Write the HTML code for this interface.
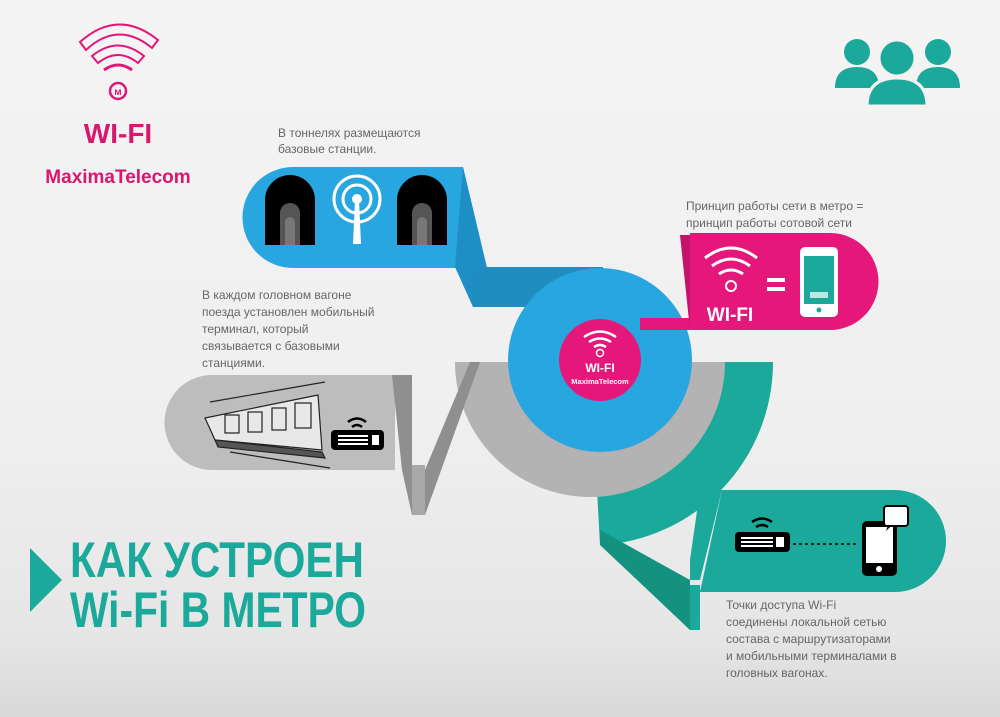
<!DOCTYPE html>
<html><head><meta charset="utf-8"><style>
html,body{margin:0;padding:0}
body{width:1000px;height:717px;overflow:hidden;background:linear-gradient(#f4f4f4 0%,#efefef 60%,#e6e6e6 88%,#d9d9d9 100%);font-family:"Liberation Sans","Noto Sans CJK SC",sans-serif}
svg{position:absolute;left:0;top:0}
</style></head><body>
<svg width="1000" height="717" viewBox="0 0 1000 717" font-family="Liberation Sans, Noto Sans CJK SC, sans-serif">
<!-- teal big shape -->
<path d="M590,362 L773,362 A183,183 0 0 1 600,545 Z" fill="#1aa99a"/>
<polygon points="600,450 600,545 690,585 700,585 700,630 690,630 600,540" fill="#1aa99a"/>
<polygon points="600,530 690,580 690,630 600,545" fill="#15927f"/>
<path d="M722,490 L895,490 A51,51 0 0 1 895,592 L700,592 Z" fill="#1aa99a"/>
<polygon points="690,580 700,580 722,490 700,490 690,560" fill="#1aa99a"/>
<!-- gray ring -->
<path d="M455,362 L725,362 A135,135 0 0 1 455,362 Z" fill="#b3b3b3"/>
<!-- gray banner -->
<path d="M212,375 L395,375 L395,470 L212,470 A47.5,47.5 0 0 1 212,375 Z" fill="#bdbdbd"/>
<polygon points="392,375 412,375 412,515 402,470" fill="#8f8f8f"/>
<polygon points="412,465 425,465 425,515 412,515" fill="#a8a8a8"/>
<polygon points="425,515 480,362 470,362 425,470" fill="#8f8f8f"/>
<!-- blue -->
<path d="M293,167 L463,167 L487,268 L293,268 A50.5,50.5 0 0 1 293,167 Z" fill="#27a6df"/>
<polygon points="463,167 487,268 487,307 473,307 455,267" fill="#1d8fc4"/>
<rect x="473" y="267" width="130" height="40" fill="#1f8dbf"/>
<circle cx="600" cy="360" r="92" fill="#27a6df"/>
<!-- pink -->
<polygon points="640,318 700,318 700,330 640,330" fill="#e6177a"/>
<polygon points="680,235 700,235 700,330 690,330" fill="#c5126a"/>
<path d="M690,233 L830,233 A48.5,48.5 0 0 1 830,330 L690,330 Z" fill="#e6177a"/>
<circle cx="600" cy="360" r="41" fill="#e6177a"/>
<!-- pink circle content -->
<g fill="none" stroke="#fff" stroke-width="2.5">
<path d="M584,337 Q600,326 616,337"/><path d="M589,342 Q600,335 611,342"/><path d="M594,347 Q600,343 606,347"/>
<circle cx="600" cy="353" r="3.5" stroke-width="1.5"/></g>
<text x="600" y="372" fill="#fff" font-size="12" font-weight="bold" text-anchor="middle">WI-FI</text>
<text x="600" y="384" fill="#fff" font-size="7.5" font-weight="bold" text-anchor="middle">MaximaTelecom</text>
<!-- pink banner content -->
<g fill="none" stroke="#fff" stroke-width="3">
<path d="M705,258 Q731,238 757,258"/><path d="M712,266 Q731,252 750,266"/><path d="M719,274 Q731,266 743,274"/>
<circle cx="731" cy="286" r="5" stroke-width="2"/></g>
<text x="730" y="321" fill="#fff" font-size="19" font-weight="bold" text-anchor="middle">WI-FI</text>
<rect x="767" y="278" width="18" height="4" fill="#fff"/><rect x="767" y="287" width="18" height="4" fill="#fff"/>
<rect x="800" y="247" width="38" height="70" rx="5" fill="#fff"/>
<rect x="804" y="256" width="30" height="48" fill="#1aa99a"/>
<polygon points="804,256 834,256 834,290 804,304" fill="#1aa99a"/>
<rect x="810" y="292" width="18" height="6" fill="#bde7e0"/>
<circle cx="819" cy="310" r="2.5" fill="#1aa99a"/>
<!-- tunnels -->
<g><path d="M265,245 L265,200 A22.5,22.5 0 0 1 315,200 L315,245 Z" fill="#000"/>
<path d="M280,245 L280,213 A10,10 0 0 1 300,213 L300,245 Z" fill="#555"/>
<path d="M285,245 L285,222 A5,5 0 0 1 295,222 L295,245 Z" fill="#777"/>
<path d="M397,245 L397,200 A22.5,22.5 0 0 1 447,200 L447,245 Z" fill="#000"/>
<path d="M412,245 L412,213 A10,10 0 0 1 432,213 L432,245 Z" fill="#555"/>
<path d="M417,245 L417,222 A5,5 0 0 1 427,222 L427,245 Z" fill="#777"/></g>
<g fill="none" stroke="#fff" stroke-width="3"><circle cx="357" cy="199" r="23"/><circle cx="357" cy="199" r="14"/></g>
<circle cx="357" cy="199" r="5" fill="#fff"/>
<path d="M355,200 L359,200 L361,244 L353,244 Z" fill="#fff"/>
<!-- train -->
<g stroke="#222" fill="none" stroke-width="1.2">
<path d="M205,418 L318,395 L322,450 L215,440 Z" fill="#e8e8e8"/>
<path d="M210,402 L325,382"/><path d="M230,452 L330,468"/>
<rect x="225" y="415" width="14" height="18"/><rect x="248" y="412" width="14" height="20"/><rect x="272" y="408" width="14" height="22"/><rect x="295" y="403" width="16" height="25"/>
<path d="M215,440 L322,452 L325,458 L218,447 Z" fill="#555"/></g>
<!-- router gray -->
<g fill="none" stroke="#000" stroke-width="2.5"><path d="M348,422 Q357,415 366,422"/><path d="M352,427 Q357,423 362,427"/></g>
<rect x="331" y="430" width="53" height="20" rx="4" fill="#000"/>
<g fill="#fff"><rect x="338" y="435" width="30" height="2"/><rect x="338" y="439" width="30" height="2"/><rect x="338" y="443" width="30" height="2"/><rect x="372" y="435" width="7" height="10"/></g>
<!-- teal content -->
<g fill="none" stroke="#000" stroke-width="2.5"><path d="M752,522 Q762,515 772,522"/><path d="M756,527 Q762,523 768,527"/></g>
<rect x="735" y="532" width="55" height="20" rx="4" fill="#000"/>
<g fill="#fff"><rect x="741" y="537" width="32" height="2"/><rect x="741" y="541" width="32" height="2"/><rect x="741" y="545" width="32" height="2"/><rect x="776" y="537" width="8" height="10"/></g>
<line x1="793" y1="544" x2="858" y2="544" stroke="#000" stroke-width="1.5" stroke-dasharray="3,3"/>
<rect x="862" y="521" width="35" height="55" rx="5" fill="#000"/>
<rect x="866" y="527" width="27" height="36" fill="#fff"/>
<circle cx="879" cy="569" r="3" fill="#fff"/>
<rect x="884" y="506" width="24" height="20" rx="3" fill="#fff" stroke="#000" stroke-width="2"/>
<polygon points="888,525 892,525 886,531" fill="#000"/>
<!-- texts -->
<g fill="#666" font-size="12">
<text x="278" y="137">В тоннелях размещаются</text><text x="278" y="153">базовые станции.</text>
<text x="686" y="210">Принцип работы сети в метро =</text><text x="686" y="227">принцип работы сотовой сети</text>
<text x="202" y="299">В каждом головном вагоне</text><text x="202" y="316">поезда установлен мобильный</text><text x="202" y="333">терминал, который</text><text x="202" y="350">связывается с базовыми</text><text x="202" y="367">станциями.</text>
<text x="726" y="609">Точки доступа Wi-Fi</text><text x="726" y="626">соединены локальной сетью</text><text x="726" y="643">состава с маршрутизаторами</text><text x="726" y="660">и мобильными терминалами в</text><text x="726" y="677">головных вагонах.</text>
</g>
<!-- logo -->
<g fill="none" stroke="#e0177a" stroke-width="3">
<path d="M80,42 Q118,8 158,40 L152,48 Q118,20 86,50 Z" stroke-width="2"/>
<path d="M92,56 Q118,35 144,56 L138,63 Q118,47 98,63 Z" stroke-width="2"/>
<path d="M104,70 Q118,60 132,70" stroke-width="3"/>
<circle cx="118" cy="91" r="8" stroke-width="2.5"/></g>
<text x="118" y="95" fill="#e0177a" font-size="10" font-weight="bold" text-anchor="middle">м</text>
<text x="118" y="143" fill="#d8176f" font-size="28" font-weight="bold" text-anchor="middle">WI-FI</text>
<text x="118" y="183" fill="#d8176f" font-size="19" font-weight="bold" text-anchor="middle">MaximaTelecom</text>
<!-- people -->
<g fill="#1aa99a">
<circle cx="857" cy="52" r="13"/><path d="M835,88 Q835,67 857,67 Q879,67 879,88 Z"/>
<circle cx="938" cy="52" r="13"/><path d="M916,88 Q916,67 938,67 Q960,67 960,88 Z"/>
</g>
<g fill="#1aa99a" stroke="#f2f2f2" stroke-width="3">
<circle cx="897" cy="58" r="18"/><path d="M867,106 Q867,78 897,78 Q927,78 927,106 Z"/></g>
<!-- title -->
<polygon points="30,548 62,580 30,612" fill="#1aa99a"/>
<text x="70" y="577" fill="#1aa99a" font-size="50" font-weight="bold" textLength="294" lengthAdjust="spacingAndGlyphs">КАК УСТРОЕН</text>
<text x="70" y="627" fill="#1aa99a" font-size="50" font-weight="bold" textLength="296" lengthAdjust="spacingAndGlyphs">Wi-Fi В МЕТРО</text>
</svg>
</body></html>
